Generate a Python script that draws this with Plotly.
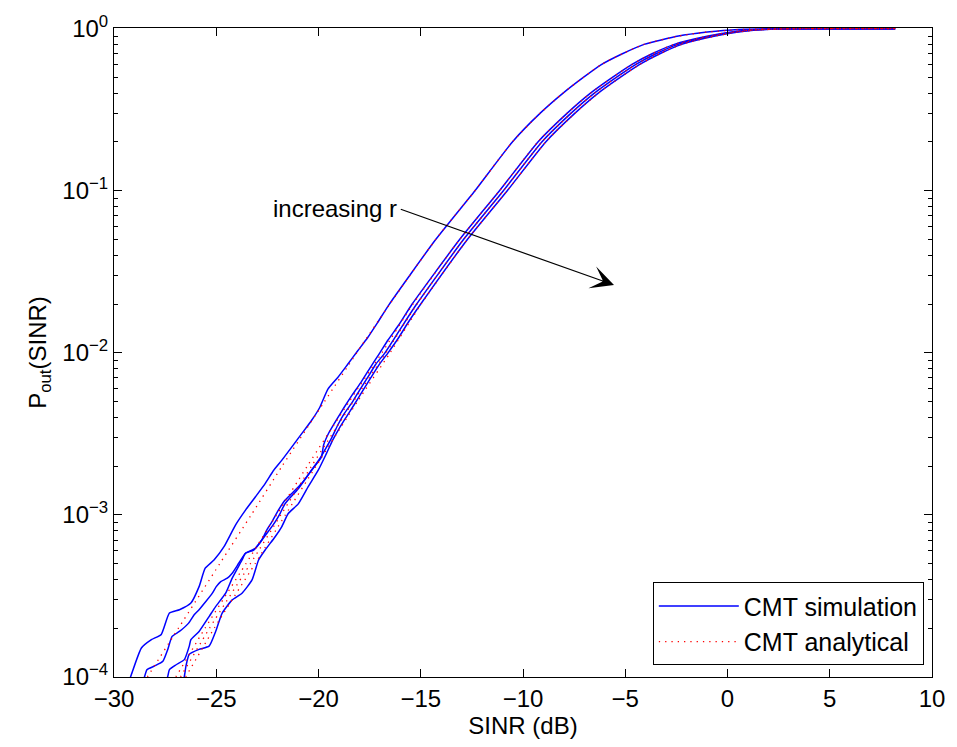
import math
import plotly.graph_objects as go

# Outage probability P_out(SINR) versus SINR (dB): four Monte-Carlo runs and
# the matching analytical CMT curves.

# Analytical curves share one probability grid; x values are SINR in dB.
ANA_P = [8e-5, 1e-4, 2e-4, 5e-4, 1e-3, 2e-3, 5e-3, 1e-2, 2e-2, 5e-2, 0.1, 0.2,
         0.3, 0.4, 0.5, 0.6, 0.7, 0.8, 0.9, 0.95, 0.98, 0.99, 0.999, 0.9999, 1.0]
ANA1_X = [-28.86, -28.37, -26.85, -24.83, -23.29, -21.78, -19.71, -18.13, -16.51,
          -14.27, -12.35, -10.52, -9.17, -8.04, -7.05, -6.17, -5.14, -4.08, -2.4,
          -1.1, 0.2, 0.85, 2.5, 3.8, 8.2]
ANA2_X = [-27.47, -26.98, -25.55, -23.55, -22.05, -20.55, -18.5, -16.9, -15.38,
          -13.1, -11.15, -9.27, -7.85, -6.70, -5.63, -4.69, -3.69, -2.60, -0.95,
          0.1, 1.1, 1.8, 3.4, 4.6, 8.2]
ANA3_X = [-27.24, -26.75, -25.33, -23.33, -21.84, -20.34, -18.3, -16.7, -15.18,
          -12.91, -10.96, -9.08, -7.66, -6.51, -5.44, -4.50, -3.50, -2.42, -0.78,
          0.27, 1.25, 1.95, 3.55, 4.75, 8.2]
ANA4_X = [-26.99, -26.5, -25.1, -23.1, -21.62, -20.12, -18.1, -16.5, -14.98,
          -12.72, -10.77, -8.89, -7.47, -6.32, -5.25, -4.31, -3.31, -2.24, -0.61,
          0.44, 1.4, 2.1, 3.7, 4.9, 8.2]

# Simulated curves (empirical CDFs, ragged at low probability).
SIM1_X = [-29.4, -29.18, -28.66, -28.17, -27.69, -27.29, -26.80, -26.24, -25.84,
          -25.54, -25.11, -24.62, -24.06, -23.57, -23.09, -22.61, -22.20, -21.80,
          -21.32, -20.83, -20.35, -19.94, -19.54, -19.06, -18.57, -18.09, -17.60,
          -17.12, -16.55, -14.27, -12.35, -10.52, -9.17, -8.04, -7.05, -6.17,
          -5.14, -4.08, -2.4, -1.1, 0.2, 0.85, 2.5, 3.8, 8.2]
SIM1_P = [8.5e-5, 1.01e-4, 1.51e-4, 1.70e-4, 1.83e-4, 2.48e-4, 2.60e-4, 2.86e-4,
          3.61e-4, 4.69e-4, 5.27e-4, 6.37e-4, 8.65e-4, 1.07e-3, 1.29e-3, 1.56e-3,
          1.88e-3, 2.17e-3, 2.61e-3, 3.16e-3, 3.81e-3, 4.60e-3, 5.97e-3, 7.04e-3,
          8.50e-3, 1.026e-2, 1.239e-2, 1.531e-2, 1.985e-2, 0.05, 0.1, 0.2, 0.3,
          0.4, 0.5, 0.6, 0.7, 0.8, 0.9, 0.95, 0.98, 0.99, 0.999, 0.9999, 1.0]

SIM2_X = [-28.7, -28.50, -28.39, -28.01, -27.61, -27.37, -27.16, -26.80, -26.35,
          -26.08, -25.84, -25.51, -25.19, -25.00, -24.78, -24.46, -24.22, -23.90,
          -23.57, -23.17, -22.77, -22.53, -22.28, -21.96, -21.64, -21.32, -20.83,
          -20.35, -19.94, -19.70, -19.35, -19.05, -18.75, -18.33, -17.95, -17.55,
          -17.2, -16.75, -16.25, -15.85, -15.2, -12.91, -10.96, -9.08, -7.66,
          -6.51, -5.44, -4.50, -3.50, -2.42, -0.78, 0.27, 1.25, 1.95, 3.55, 4.75,
          8.2]
SIM2_P = [8.5e-5, 1.01e-4, 1.11e-4, 1.17e-4, 1.25e-4, 1.48e-4, 1.78e-4, 1.91e-4,
          2.15e-4, 2.42e-4, 2.60e-4, 2.92e-4, 3.29e-4, 3.61e-4, 3.88e-4, 4.07e-4,
          4.37e-4, 5.03e-4, 5.80e-4, 6.07e-4, 7.00e-4, 8.06e-4, 9.06e-4, 1.07e-3,
          1.23e-3, 1.35e-3, 1.56e-3, 1.88e-3, 2.22e-3, 2.50e-3, 3.0e-3, 3.6e-3,
          4.2e-3, 5.0e-3, 6.0e-3, 7.2e-3, 8.5e-3, 1.0e-2, 1.25e-2, 1.5e-2, 2.0e-2,
          0.05, 0.1, 0.2, 0.3, 0.4, 0.5, 0.6, 0.7, 0.8, 0.9, 0.95, 0.98, 0.99,
          0.999, 0.9999, 1.0]

SIM3_X = [-27.6, -27.37, -27.29, -26.96, -26.56, -26.32, -26.24, -25.84, -25.35,
          -25.03, -24.54, -24.22, -23.74, -23.57, -23.09, -22.77, -22.29, -22.12,
          -21.88, -21.64, -20.99, -20.35, -19.86, -19.75, -19.5, -19.1, -18.75,
          -18.35, -17.95, -17.5, -17.0, -16.6, -16.05, -15.42, -13.1, -11.15,
          -9.27, -7.85, -6.70, -5.63, -4.69, -3.69, -2.60, -0.95, 0.1, 1.1, 1.8,
          3.4, 4.6, 8.2]
SIM3_P = [8.5e-5, 1.01e-4, 1.11e-4, 1.19e-4, 1.28e-4, 1.55e-4, 1.70e-4, 1.91e-4,
          2.36e-4, 2.72e-4, 3.29e-4, 4.07e-4, 5.27e-4, 5.80e-4, 6.22e-4, 7.00e-4,
          8.44e-4, 9.06e-4, 1.02e-3, 1.17e-3, 1.45e-3, 1.88e-3, 2.27e-3, 2.7e-3,
          3.2e-3, 3.9e-3, 4.6e-3, 5.5e-3, 6.5e-3, 8.0e-3, 1.0e-2, 1.2e-2, 1.5e-2,
          2.0e-2, 0.05, 0.1, 0.2, 0.3, 0.4, 0.5, 0.6, 0.7, 0.8, 0.9, 0.95, 0.98,
          0.99, 0.999, 0.9999, 1.0]

SIM4_X = [-26.75, -26.56, -26.48, -26.32, -25.84, -25.35, -25.03, -24.71, -24.22,
          -23.74, -23.25, -22.93, -22.61, -22.12, -21.80, -21.48, -20.99, -20.51,
          -20.02, -19.62, -19.3, -19.0, -18.65, -18.25, -17.85, -17.45, -17.05,
          -16.6, -16.1, -15.6, -15.0, -12.72, -10.77, -8.89, -7.47, -6.32, -5.25,
          -4.31, -3.31, -2.24, -0.61, 0.44, 1.4, 2.1, 3.7, 4.9, 8.2]
SIM4_P = [8.5e-5, 1.01e-4, 1.17e-4, 1.38e-4, 1.48e-4, 1.55e-4, 1.91e-4, 2.48e-4,
          2.99e-4, 3.29e-4, 3.97e-4, 5.27e-4, 6.07e-4, 7.33e-4, 8.44e-4, 1.02e-3,
          1.17e-3, 1.49e-3, 1.88e-3, 2.38e-3, 2.9e-3, 3.4e-3, 4.0e-3, 4.8e-3,
          5.8e-3, 7.0e-3, 8.4e-3, 1.0e-2, 1.23e-2, 1.55e-2, 2.0e-2, 0.05, 0.1, 0.2,
          0.3, 0.4, 0.5, 0.6, 0.7, 0.8, 0.9, 0.95, 0.98, 0.99, 0.999, 0.9999, 1.0]

X_TICKS = [-30, -25, -20, -15, -10, -5, 0, 5, 10]
Y_TICKS = [1e-4, 1e-3, 1e-2, 1e-1, 1e0]
Y_TICK_TEXT = ["10<sup>\u22124</sup>", "10<sup>\u22123</sup>", "10<sup>\u22122</sup>",
               "10<sup>\u22121</sup>", "10<sup>0</sup>"]

FONT = "Liberation Sans, Arial, Helvetica, sans-serif"
SIM_COLOR = "#0000ff"
ANA_COLOR = "#ff0000"

fig = go.Figure()

sims = [(SIM1_X, SIM1_P), (SIM2_X, SIM2_P), (SIM3_X, SIM3_P), (SIM4_X, SIM4_P)]
for i, (xs, ps) in enumerate(sims):
    fig.add_trace(go.Scatter(
        x=xs, y=ps, mode="lines",
        line=dict(color=SIM_COLOR, width=1.5, shape="spline", smoothing=0.5),
        name="CMT simulation", legendgroup="sim", showlegend=(i == 0),
    ))

for i, xs in enumerate([ANA1_X, ANA2_X, ANA3_X, ANA4_X]):
    fig.add_trace(go.Scatter(
        x=xs, y=ANA_P, mode="lines",
        line=dict(color=ANA_COLOR, width=1.3, dash="1.3px,5px", shape="spline",
                  smoothing=0.6),
        name="CMT analytical", legendgroup="ana", showlegend=(i == 0),
    ))

# minor ticks on the log axis: 2..9 within each decade
minor_vals = [m * 10.0 ** k for k in range(-4, 0) for m in range(2, 10)]

axis_common = dict(
    showline=True, linecolor="black", linewidth=1, mirror="ticks",
    ticks="inside", ticklen=8, tickwidth=1, tickcolor="black",
    showgrid=False, zeroline=False,
    tickfont=dict(family=FONT, size=24, color="black"),
)

fig.update_xaxes(
    range=[-30, 10], tickmode="array", tickvals=X_TICKS,
    title=dict(text="SINR (dB)", font=dict(family=FONT, size=24, color="black"),
               standoff=6),
    **axis_common,
)
fig.update_yaxes(
    type="log", range=[-4, 0.004], tickmode="array", tickvals=Y_TICKS,
    ticktext=Y_TICK_TEXT,
    minor=dict(ticks="inside", ticklen=4, tickcolor="black", tickvals=minor_vals,
               showgrid=False),
    title=dict(text="P<sub>out</sub>(SINR)",
               font=dict(family=FONT, size=24, color="black"), standoff=8),
    **axis_common,
)

# "increasing r" label with arrow pointing across the curve family
tail_x, tail_p = -16.05, 0.0774
head_x, head_p = -5.55, 0.0262
fig.add_annotation(
    x=head_x, y=math.log10(head_p), ax=tail_x, ay=math.log10(tail_p),
    xref="x", yref="y", axref="x", ayref="y",
    text="", showarrow=True, arrowhead=3, arrowsize=3.2, arrowwidth=1.2,
    arrowcolor="black",
)
fig.add_annotation(
    x=tail_x, y=math.log10(tail_p), xref="x", yref="y",
    text="increasing r", showarrow=False, xanchor="right", yanchor="middle",
    font=dict(family=FONT, size=24, color="black"),
)

fig.update_layout(
    width=957, height=747,
    margin=dict(l=114, r=17, t=26, b=70),
    paper_bgcolor="white", plot_bgcolor="white",
    font=dict(family=FONT, size=24, color="black"),
    showlegend=True,
    legend=dict(
        x=0.99, y=0.018, xanchor="right", yanchor="bottom",
        bgcolor="white", bordercolor="black", borderwidth=1,
        font=dict(family=FONT, size=25, color="black"),
        itemwidth=80, tracegroupgap=0,
    ),
)

fig.write_html("out.html")
